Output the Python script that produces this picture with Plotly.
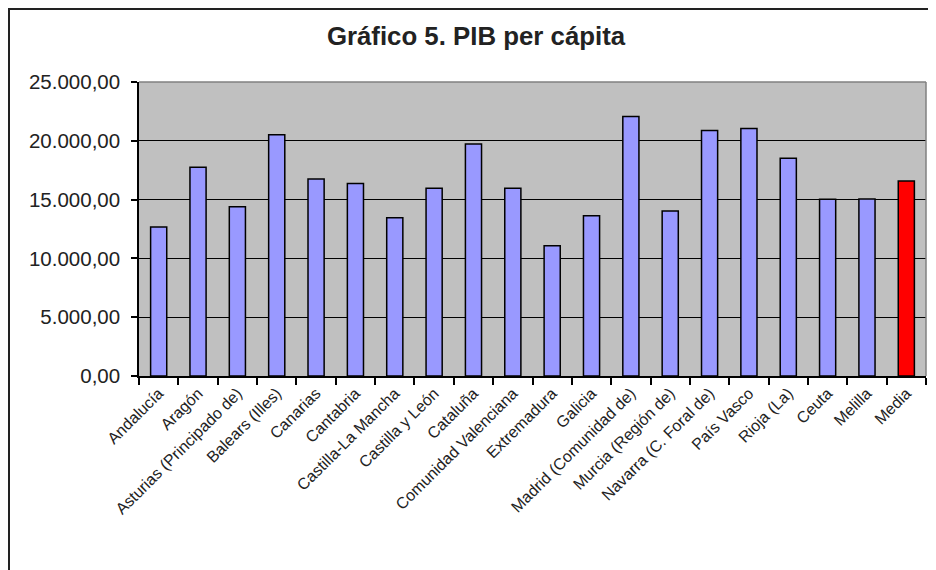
import plotly.graph_objects as go

regions = ["Andalucía", "Aragón", "Asturias (Principado de)", "Balears (Illes)",
           "Canarias", "Cantabria", "Castilla-La Mancha", "Castilla y León",
           "Cataluña", "Comunidad Valenciana", "Extremadura", "Galicia",
           "Madrid (Comunidad de)", "Murcia (Región de)", "Navarra (C. Foral de)",
           "País Vasco", "Rioja (La)", "Ceuta", "Melilla", "Media"]
pib = [12670, 17760, 14400, 20510, 16760, 16360, 13460, 15970, 19720, 15970,
       11080, 13630, 22070, 14030, 20880, 21050, 18520, 15030, 15050, 16590]
y_ticks = [0, 5000, 10000, 15000, 20000, 25000]

# the page places the figure 8px from the window's top-left corner
W, H = 928, 562
ML, MR, MT, MB = 131, 10, 74, 194
PW, PH = W - ML - MR, H - MT - MB

def px(x):  # figure pixel -> paper fraction
    return (x - ML) / PW

def py(y):
    return (H - MB - y) / PH

colors = ["#9999FF"] * (len(regions) - 1) + ["#FF0000"]

fig = go.Figure(go.Bar(
    x=regions, y=pib,
    marker=dict(color=colors, line=dict(color="black", width=1.5)),
    width=0.41,
))

fig.update_layout(
    width=W, height=H,
    margin=dict(l=ML, r=MR, t=MT, b=MB),
    paper_bgcolor="white",
    plot_bgcolor="#C0C0C0",
    separators=",.",
    showlegend=False,
    font=dict(family="Liberation Sans, Arial, sans-serif", color="#222"),
    title=dict(text="<b>Gráfico 5. PIB per cápita</b>", x=468 / W, xanchor="center",
               y=1 - 28 / H, yanchor="middle",
               font=dict(size=25.8, color="#222")),
)
fig.update_xaxes(
    type="category", tickangle=-45, tickfont=dict(size=16, color="#222"),
    showline=True, linecolor="black", linewidth=1.5,
    ticks="outside", tickson="boundaries", ticklen=7, tickcolor="black", tickwidth=1.5,
    showgrid=False, automargin=False,
)
fig.update_yaxes(
    range=[0, 25000], tickvals=y_ticks, tickformat=",.2f",
    tickfont=dict(size=20.5, color="#222"),
    showline=True, linecolor="black", linewidth=1.5,
    ticks="outside", ticklen=6, tickcolor="black", tickwidth=1.5,
    showgrid=True, gridcolor="black", gridwidth=1.3,
    zeroline=False, ticklabelstandoff=7, automargin=False,
)
# plot-area gray border (top and right)
fig.add_shape(type="line", xref="paper", yref="paper", x0=0, x1=1, y0=1, y1=1,
              line=dict(color="#808080", width=1.5))
fig.add_shape(type="line", xref="paper", yref="paper", x0=1, x1=1, y0=0, y1=1,
              line=dict(color="#808080", width=1.5))
# outer chart frame
fig.add_shape(type="rect", xref="paper", yref="paper",
              x0=px(1), x1=px(W + 20), y0=py(H + 20), y1=py(1),
              line=dict(color="#222", width=2), layer="above")

fig.write_html("out.html")
